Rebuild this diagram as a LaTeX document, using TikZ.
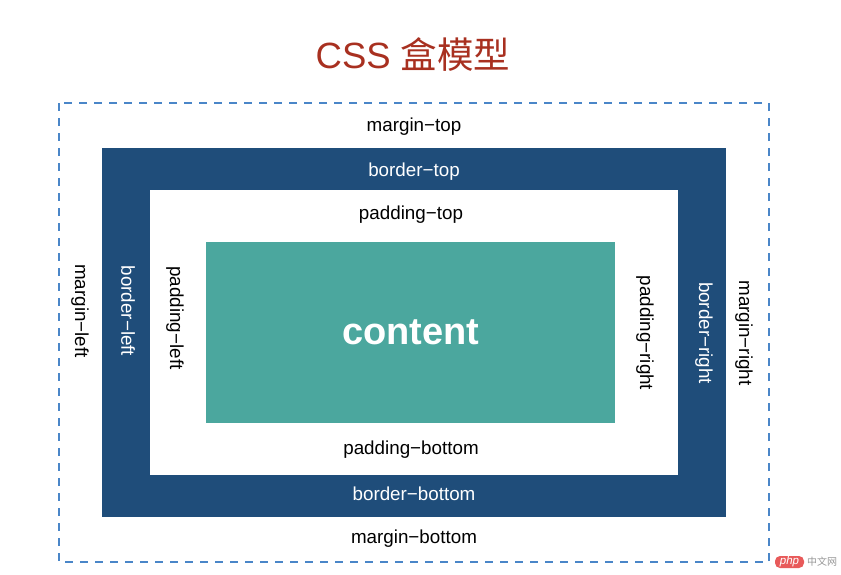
\documentclass[tikz,border=0pt]{standalone}
\usepackage{fontspec}
\setmainfont{Liberation Sans}
\newfontfamily\cjk{Noto Sans CJK SC}
\definecolor{titlered}{RGB}{168,48,32}
\definecolor{borderblue}{RGB}{31,77,122}
\definecolor{contentteal}{RGB}{75,167,158}
\definecolor{dashblue}{RGB}{74,134,200}
\definecolor{wmred}{RGB}{232,90,90}
\definecolor{wmgray}{RGB}{150,150,150}
\begin{document}
\begin{tikzpicture}[x=1pt,y=-1pt,
  lbl/.style={font=\fontsize{18.8}{19}\selectfont, text=black, inner sep=0pt},
  wlbl/.style={lbl, text=white},
  vert/.style={rotate=-90}]
\useasboundingbox (0,0) rectangle (841,574);
% title
\node[text=titlered, font=\fontsize{36.5}{37}\selectfont, inner sep=0pt] (title) at (413,55) {CSS {\cjk 盒模型}};
% margin (dashed)
\draw[dashblue, line width=1.4pt, dash pattern=on 8pt off 7pt] (59,103) rectangle (769,562);
% border
\fill[borderblue] (102,148) rectangle (726,517);
% padding
\fill[white] (150,190) rectangle (678,475);
% content
\fill[contentteal] (206,242) rectangle (615,423);
\node[text=white, font=\fontsize{38}{38}\selectfont\bfseries, inner sep=0pt] (content) at (411,332) {content};
% labels
\node[lbl] (mt) at (414,127) {margin−top};
\node[wlbl] (bt) at (414,172) {border−top};
\node[lbl] (pt) at (411,215) {padding−top};
\node[lbl] (pb) at (411,450) {padding−bottom};
\node[wlbl] (bb) at (414,494) {border−bottom};
\node[lbl] (mb) at (414,539) {margin−bottom};
\node[lbl, vert] (ml) at (80,311) {margin−left};
\node[wlbl, vert] (bl) at (128,311) {border−left};
\node[lbl, vert] (pl) at (175,318) {padding−left};
\node[lbl, vert] (pr) at (645,333) {padding−right};
\node[wlbl, vert] (br) at (704,333) {border−right};
\node[lbl, vert] (mr) at (744,333) {margin−right};
% watermark
\fill[wmred, rounded corners=5pt] (775,556) rectangle (804,568);
\node[text=white, font=\fontsize{11.5}{12}\selectfont\itshape, inner sep=0pt] (wmphp) at (789.5,561.5) {php};
\node[text=wmgray, font=\cjk\fontsize{10}{10}\selectfont, inner sep=0pt] (wmcn) at (822,562) {中文网};
\end{tikzpicture}
\end{document}
